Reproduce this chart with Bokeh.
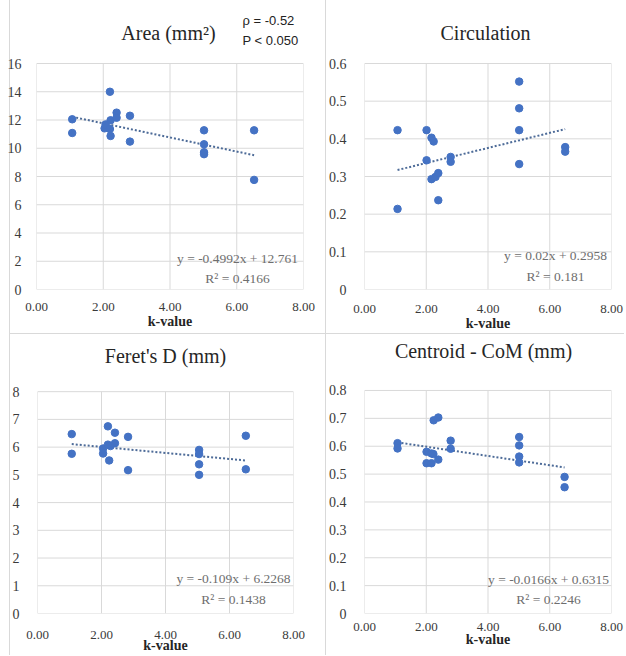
from bokeh.plotting import figure
from bokeh.models import Label, FixedTicker, Range1d
from bokeh.layouts import column, row
from bokeh.embed import file_html
from bokeh.resources import INLINE

# ---------------- data ----------------
x_ticks = [0, 2, 4, 6, 8]
x_tick_labels = ["0.00", "2.00", "4.00", "6.00", "8.00"]
x_label = "k-value"

area_title = "Area (mm²)"
area_k = [1.07, 1.07, 2.04, 2.07, 2.20, 2.20, 2.22, 2.22, 2.40, 2.40, 2.80, 2.80, 5.02, 5.02, 5.02, 5.02, 6.52, 6.52]
area_v = [12.05, 11.08, 11.41, 11.69, 14.0, 11.36, 11.98, 10.87, 12.52, 12.16, 12.3, 10.47, 11.27, 10.28, 9.72, 9.58, 11.27, 7.76]
area_yticks = [0, 2, 4, 6, 8, 10, 12, 14, 16]
area_ytick_labels = ["0", "2", "4", "6", "8", "10", "12", "14", "16"]
area_fit = [-0.4992, 12.761]
area_eq = "y = -0.4992x + 12.761"
area_r2 = "R² = 0.4166"
area_rho = "ρ  = -0.52"
area_p = "P < 0.050"

circ_title = "Circulation"
circ_k = [1.07, 1.07, 2.01, 2.01, 2.17, 2.17, 2.24, 2.30, 2.39, 2.39, 2.79, 2.79, 5.01, 5.01, 5.01, 5.01, 6.50, 6.50]
circ_v = [0.423, 0.214, 0.423, 0.343, 0.403, 0.293, 0.393, 0.299, 0.309, 0.237, 0.352, 0.339, 0.552, 0.481, 0.423, 0.333, 0.378, 0.366]
circ_yticks = [0, 0.1, 0.2, 0.3, 0.4, 0.5, 0.6]
circ_ytick_labels = ["0", "0.1", "0.2", "0.3", "0.4", "0.5", "0.6"]
circ_fit = [0.02, 0.2958]
circ_eq = "y = 0.02x + 0.2958"
circ_r2 = "R² = 0.181"

feret_title = "Feret's D (mm)"
feret_k = [1.07, 1.07, 2.05, 2.05, 2.20, 2.20, 2.28, 2.24, 2.42, 2.42, 2.83, 2.83, 5.05, 5.05, 5.05, 5.05, 6.51, 6.51]
feret_v = [6.47, 5.76, 5.95, 5.77, 6.75, 6.09, 6.04, 5.52, 6.52, 6.14, 6.37, 5.17, 5.90, 5.75, 5.38, 5.00, 6.41, 5.20]
feret_yticks = [0, 1, 2, 3, 4, 5, 6, 7, 8]
feret_ytick_labels = ["0", "1", "2", "3", "4", "5", "6", "7", "8"]
feret_fit = [-0.109, 6.2268]
feret_eq = "y = -0.109x + 6.2268"
feret_r2 = "R² = 0.1438"

cent_title = "Centroid - CoM (mm)"
cent_k = [1.07, 1.07, 2.01, 2.01, 2.17, 2.17, 2.24, 2.23, 2.39, 2.39, 2.79, 2.79, 5.01, 5.01, 5.01, 5.01, 6.48, 6.48]
cent_v = [0.611, 0.592, 0.580, 0.539, 0.574, 0.539, 0.693, 0.572, 0.703, 0.552, 0.620, 0.591, 0.633, 0.603, 0.563, 0.542, 0.490, 0.453]
cent_yticks = [0, 0.1, 0.2, 0.3, 0.4, 0.5, 0.6, 0.7, 0.8]
cent_ytick_labels = ["0", "0.1", "0.2", "0.3", "0.4", "0.5", "0.6", "0.7", "0.8"]
cent_fit = [-0.0166, 0.6315]
cent_eq = "y = -0.0166x + 0.6315"
cent_r2 = "R² = 0.2246"

# ---------------- style ----------------
SERIF = "Liberation Serif"
SANS = "Liberation Sans"
DOT = "#4472c4"
TREND = "#4d6b98"
GRID = "#d9d9d9"
TICK_COL = "#3a3a3a"
EQ_COL = "#6e6e6e"


def lab(p, x, y, text, font=SERIF, size="13.5px", color=EQ_COL, align="center",
        baseline="middle", style="normal"):
    p.add_layout(Label(x=x, y=y, x_units="screen", y_units="screen", text=text,
                       text_font=font, text_font_size=size, text_color=color,
                       text_align=align, text_baseline=baseline, text_font_style=style))


def panel(title, k, v, yticks, ylabels, fit, eq, r2, g, shadow):
    ymin, ymax = yticks[0], yticks[-1]
    frame_h = g["h"] - g["b"]
    plot_h = frame_h - g["pad"]
    y_end = ymin + (ymax - ymin) * frame_h / plot_h
    p = figure(width=g["w"], height=g["h"], x_range=Range1d(0, 8),
               y_range=Range1d(ymin, y_end), title=None,
               output_backend="svg", toolbar_location=None,
               min_border_left=g["l"], min_border_right=g["r"],
               min_border_top=0, min_border_bottom=g["b"],
               border_fill_color=None, background_fill_color=None,
               outline_line_color=None, styles={"box-shadow": shadow})
    p.xaxis.ticker = FixedTicker(ticks=x_ticks)
    p.xaxis.major_label_overrides = dict(zip(x_ticks, x_tick_labels))
    p.yaxis.ticker = FixedTicker(ticks=yticks)
    p.yaxis.major_label_overrides = dict(zip(yticks, ylabels))
    for ax in (p.xaxis, p.yaxis):
        ax.axis_line_color = None
        ax.major_tick_line_color = None
        ax.minor_tick_line_color = None
        ax.major_label_text_font = SERIF
        ax.major_label_text_color = TICK_COL
    p.xaxis.major_label_text_font_size = "13px"
    p.yaxis.major_label_text_font_size = "14px"
    p.xaxis.major_label_standoff = g["xs"]
    p.yaxis.major_label_standoff = g["ys"]
    p.xaxis.axis_label = x_label
    p.xaxis.axis_label_text_font = SERIF
    p.xaxis.axis_label_text_font_size = "14px"
    p.xaxis.axis_label_text_font_style = "bold"
    p.xaxis.axis_label_text_color = "#262626"
    p.xaxis.axis_label_standoff = g["ls"]
    p.grid.visible = False

    # plot-area grid (bounded to the value ranges)
    p.segment(x0=x_ticks, y0=[ymin] * len(x_ticks), x1=x_ticks, y1=[ymax] * len(x_ticks),
              line_color=GRID, line_width=1)
    p.segment(x0=[x_ticks[0]] * len(yticks), y0=yticks, x1=[x_ticks[-1]] * len(yticks), y1=yticks,
              line_color=GRID, line_width=1)

    x0, x1 = min(k), max(k)
    p.line([x0, x1], [fit[0] * x0 + fit[1], fit[0] * x1 + fit[1]],
           line_color=TREND, line_width=2, line_dash="2 2")
    p.scatter(k, v, size=7.5, fill_color=DOT, line_color=DOT)

    lab(p, g["tx"], g["ty"], title, size="20px", color="#262626")
    lab(p, g["ex"], g["ey"], eq)
    lab(p, g["ex"], g["ry"], r2)
    return p


left9 = "inset 9px 0 0 white, inset 10px 0 0 " + GRID
left9_top = left9 + ", inset 0 1px 0 " + GRID
left1 = "inset 1px 0 0 " + GRID
left1_top = left1 + ", inset 0 1px 0 " + GRID

g1 = dict(w=325, h=333, l=36, r=22, b=44, pad=63, xs=7, ys=9, ls=0,
          tx=132, ty=257, ex=201, ey=31, ry=11)
g2 = dict(w=299, h=333, l=37, r=13, b=44, pad=63, xs=9, ys=12, ls=0,
          tx=121, ty=257, ex=191, ey=34, ry=13)
g3 = dict(w=325, h=322, l=37, r=32, b=38, pad=59, xs=11, ys=12, ls=-4,
          tx=128, ty=258, ex=196, ey=35, ry=14)
g4 = dict(w=299, h=322, l=37, r=13, b=32, pad=59, xs=3, ys=12, ls=-2,
          tx=119, ty=263, ex=184, ey=34, ry=14)

p1 = panel(area_title, area_k, area_v, area_yticks, area_ytick_labels, area_fit, area_eq, area_r2, g1, left9)
lab(p1, 206, 269, area_rho, font=SANS, size="13px", color="#222222", align="left")
lab(p1, 206, 249, area_p, font=SANS, size="13px", color="#222222", align="left")
p2 = panel(circ_title, circ_k, circ_v, circ_yticks, circ_ytick_labels, circ_fit, circ_eq, circ_r2, g2, left1)
p3 = panel(feret_title, feret_k, feret_v, feret_yticks, feret_ytick_labels, feret_fit, feret_eq, feret_r2, g3, left9_top)
p4 = panel(cent_title, cent_k, cent_v, cent_yticks, cent_ytick_labels, cent_fit, cent_eq, cent_r2, g4, left1_top)

layout = column(row(p1, p2), row(p3, p4))
open("out.html", "w").write(file_html(layout, INLINE))
